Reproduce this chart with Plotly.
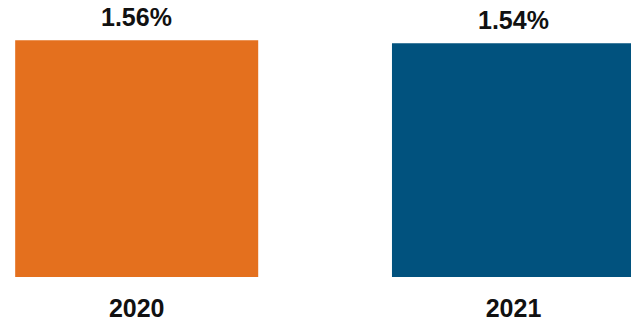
import plotly.graph_objects as go

# Annual rate by year
years = ["2020", "2021"]
rates = [1.56, 1.54]
bar_colors = ["#E4701E", "#01527E"]

x_pos = list(range(len(years)))

fig = go.Figure(
    go.Bar(
        x=x_pos,
        y=rates,
        width=0.645,
        marker=dict(color=bar_colors, line=dict(width=0)),
        hoverinfo="skip",
    )
)

# Value labels above each bar
for xi, v in zip(x_pos, rates):
    fig.add_annotation(
        x=xi, y=v, text=f"<b>{v:.2f}%</b>", showarrow=False,
        yanchor="middle", yshift=23,
        font=dict(family="Liberation Sans, Arial, sans-serif", size=25, color="#111111"),
    )

fig.update_layout(
    width=631, height=321,
    margin=dict(l=0, r=0, t=0, b=44),
    paper_bgcolor="white", plot_bgcolor="white",
    showlegend=False,
    font=dict(family="Liberation Sans, Arial, sans-serif"),
)
fig.update_xaxes(
    range=[-0.3628, 1.3119],
    tickvals=x_pos, ticktext=[f"<b>{y}</b>" for y in years],
    tickfont=dict(size=25, color="#111111"),
    ticks="", showline=False, showgrid=False, zeroline=False,
    ticklabelstandoff=14, automargin=False,
)
fig.update_yaxes(
    range=[0, 1.825], visible=False, showgrid=False, zeroline=False,
)

fig.write_html("out.html")
